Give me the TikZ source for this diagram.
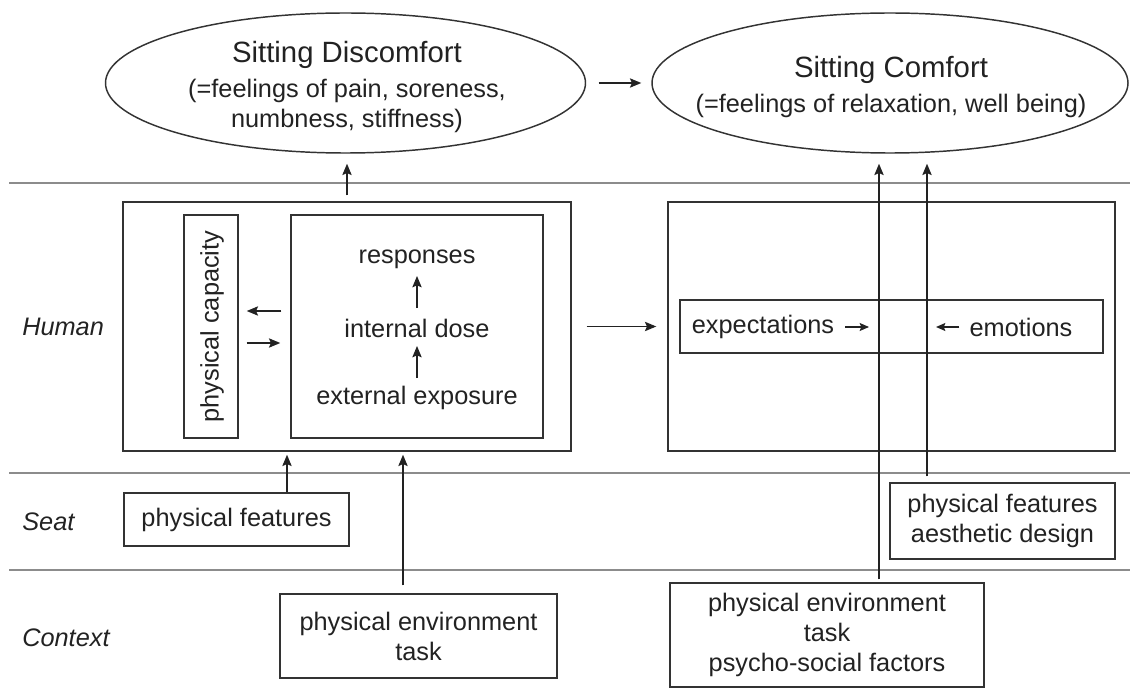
\documentclass[tikz,border=0pt]{standalone}
\usepackage{fontspec}
\setmainfont{Liberation Sans}
\usetikzlibrary{arrows.meta,shapes.geometric}

% one drawing unit = 0.75pt
\newdimen\pxu
\pxu=0.75pt
\newcommand\bodyfont{\fontsize{19}{22.5}\selectfont}
\newcommand\titlefont{\fontsize{22}{25}\selectfont}
\definecolor{ink}{HTML}{222222}
\definecolor{frame}{HTML}{333333}
\definecolor{rulegray}{HTML}{8C8C8C}

\begin{document}
\begin{tikzpicture}[x=0.75pt, y=-0.75pt,
  every node/.style={text=ink, font=\bodyfont},
  box/.style={draw=frame, line width=1.1pt, rectangle, inner sep=0pt, align=center},
  oval/.style={draw=frame, line width=1.1pt, ellipse, inner sep=0pt},
  txt/.style={inner sep=0pt, align=center},
  lane/.style={font=\bodyfont\itshape, anchor=west, inner sep=0pt},
  sep/.style={draw=rulegray, line width=1.5pt},
  arr/.style={draw=ink, line width=1pt, -{Stealth[length=8.5pt,width=7pt,inset=1.5pt]}},
  arrsm/.style={draw=ink, line width=1pt, -{Stealth[length=7pt,width=6pt,inset=1.2pt]}},
]
\useasboundingbox (0,0) rectangle (1130,695);

% layer separators
\draw[sep] (9,183) -- (1130,183);
\draw[sep] (9,473) -- (1130,473);
\draw[sep] (9,570) -- (1130,570);

% layer names
\node[lane] (lhuman) at (22,327) {Human};
\node[lane] (lseat) at (22,522) {Seat};
\node[lane] (lcontext) at (22,638) {Context};

% outcome ellipses
\node[oval, minimum width=480*\pxu, minimum height=140*\pxu] (disc) at (345.5,83) {};
\node[txt] (disct) at (347,87) {{\titlefont Sitting Discomfort}\\[4pt](=feelings of pain, soreness,\\numbness, stiffness)};
\node[oval, minimum width=476*\pxu, minimum height=140*\pxu] (comf) at (890,83) {};
\node[txt] (comft) at (891,87) {{\titlefont Sitting Comfort}\\[4pt](=feelings of relaxation, well being)};

% human layer, physical side
\node[box, minimum width=448*\pxu, minimum height=249*\pxu] (human) at (347,326.5) {};
\node[box, minimum width=54*\pxu, minimum height=223*\pxu] (cap) at (211,326.5) {};
\node[txt, rotate=90] (capt) at (212,326.5) {physical capacity};
\node[box, minimum width=252*\pxu, minimum height=223*\pxu] (dose) at (417,326.5) {};
\node[txt] (resp) at (417,259) {responses};
\node[txt] (intd) at (417,328) {internal dose};
\node[txt] (extx) at (417,398) {external exposure};

% human layer, psychological side
\node[box, minimum width=447*\pxu, minimum height=249*\pxu] (psych) at (891.5,326.5) {};
\node[box, minimum width=423*\pxu, minimum height=53*\pxu] (expbox) at (891.5,326.5) {};
\node[txt] (expt) at (763,327) {expectations};
\node[txt] (emot) at (1021,327) {emotions};
\coordinate (expend) at (869,327);
\coordinate (emoend) at (936,327);

% seat layer
\node[box, minimum width=225*\pxu, minimum height=53*\pxu] (seatl) at (236.5,519.5) {physical features};
\node[box, minimum width=225*\pxu, minimum height=76*\pxu] (seatr) at (1002.5,521) {physical features\\aesthetic design};

% context layer
\node[box, minimum width=277*\pxu, minimum height=84*\pxu] (ctxl) at (418.5,636) {physical environment\\task};
\node[box, minimum width=314*\pxu, minimum height=104*\pxu] (ctxr) at (827,635) {physical environment\\task\\psycho-social factors};

% helper coordinates for connector positions
\coordinate (yl) at (0,311);
\coordinate (yr) at (0,343);
\coordinate (xa) at (287,0);
\coordinate (xb) at (403,0);
\coordinate (xc) at (879,0);
\coordinate (xd) at (927,0);

% connectors
\draw[arr, shorten <=12.5*\pxu, shorten >=10*\pxu] (disc.east) -- (comf.west);
\draw[arr, shorten <=6*\pxu, shorten >=10*\pxu] (human.north) -- (human.north |- disc.south);
\draw[arr, shorten <=15*\pxu, shorten >=11*\pxu] (human.east) -- (psych.west);

\draw[arr, shorten <=9*\pxu, shorten >=8*\pxu] (dose.west |- yl) -- (cap.east |- yl);
\draw[arr, shorten <=8*\pxu, shorten >=10*\pxu] (cap.east |- yr) -- (dose.west |- yr);
\draw[arr, shorten <=20*\pxu, shorten >=18*\pxu] (extx.center) -- (intd.center);
\draw[arr, shorten <=20*\pxu, shorten >=17*\pxu] (intd.center) -- (resp.center);

\draw[arrsm, shorten <=11*\pxu] (expt.east) -- (expend);
\draw[arrsm, shorten <=10*\pxu] (emot.west) -- (emoend);

\draw[arr, shorten >=3*\pxu] (seatl.north -| xa) -- (human.south -| xa);
\draw[arr, shorten <=8*\pxu, shorten >=3*\pxu] (ctxl.north -| xb) -- (human.south -| xb);
\draw[arr, shorten <=3*\pxu, shorten >=10*\pxu] (ctxr.north -| xc) -- (comf.south -| xc);
\draw[arr, shorten <=6*\pxu, shorten >=10*\pxu] (seatr.north -| xd) -- (comf.south -| xd);
\end{tikzpicture}
\end{document}
